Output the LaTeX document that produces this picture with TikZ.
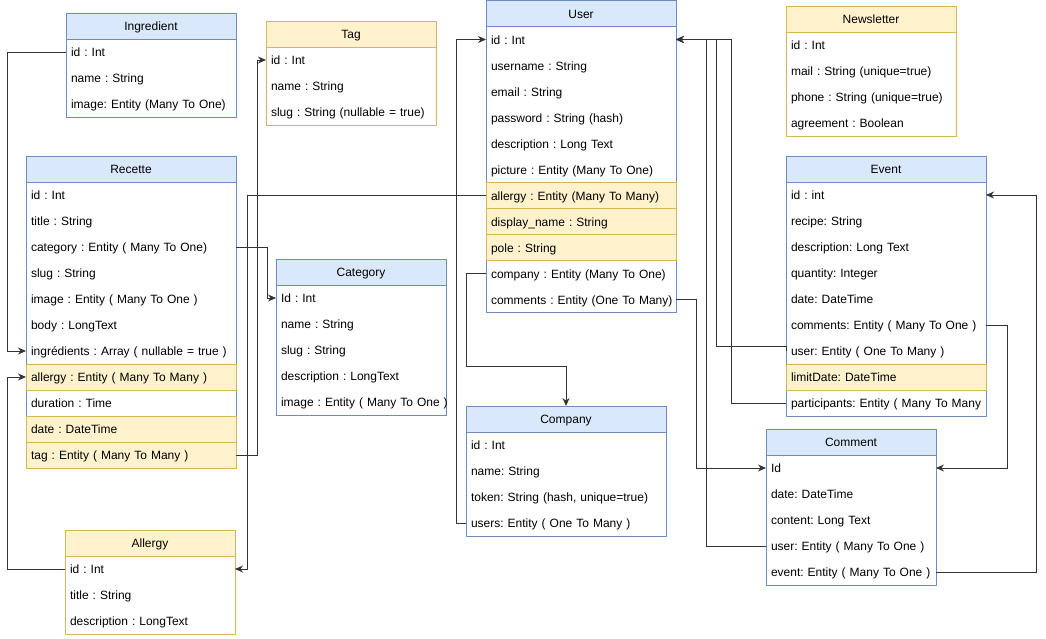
\documentclass[tikz,border=0pt]{standalone}
\usepackage{fontspec}
\setmainfont{Liberation Sans}
\usetikzlibrary{positioning, backgrounds, arrows.meta}
\frenchspacing

\definecolor{headblue}{HTML}{DAE8FC}
\definecolor{lineblue}{HTML}{6C8EBF}
\definecolor{headyellow}{HTML}{FFF2CC}
\definecolor{lineyellow}{HTML}{D6B656}

\begin{document}
\begin{tikzpicture}[
    x=1pt, y=-1pt,
    every node/.style={font=\fontsize{12}{14}\selectfont, inner xsep=5, inner ysep=0, outer sep=0,
        minimum height=26, text height=10, text depth=1},
    blue head/.style={fill=headblue, draw=lineblue, line width=1, align=center},
    yellow head/.style={fill=headyellow, draw=lineyellow, line width=1, align=center},
    field/.style={align=left},
    key field/.style={align=left, fill=headyellow, draw=lineyellow, line width=1},
    blue box/.style={draw=lineblue, line width=1},
    yellow box/.style={draw=lineyellow, line width=1},
    link/.style={draw=black!80, line width=1, -{Stealth[length=8pt, width=7pt]}}
]
    \useasboundingbox (0,0) rectangle (1046,638);

    % Ingredient
    \begin{scope}[nodes={text width=160}]
        \node[blue head, anchor=north west] (ing) at (66,13) {Ingredient};
        \foreach \n/\t/\s [remember=\n as \p (initially ing)] in {ing-id/{id : Int}/field,
            ing-name/{name : String}/field, ing-img/{image: Entity (Many To One)}/field}
            \node[\s, below=0pt of \p] (\n) {\mbox{\t}};
    \end{scope}

    % Recette
    \begin{scope}[nodes={text width=200}]
        \node[blue head, anchor=north west] (rec) at (26,156) {Recette};
        \foreach \n/\t/\s [remember=\n as \p (initially rec)] in {rec-id/{id : Int}/field,
            rec-title/{title : String}/field, rec-cat/{category : Entity ( Many To One)}/field,
            rec-slug/{slug : String}/field, rec-img/{image : Entity ( Many To One )}/field,
            rec-body/{body : LongText}/field, rec-ingr/{ingrédients : Array ( nullable = true )}/field,
            rec-all/{allergy : Entity ( Many To Many )}/key field, rec-dur/{duration : Time}/field,
            rec-date/{date : DateTime}/key field, rec-tag/{tag : Entity ( Many To Many )}/key field}
            \node[\s, below=0pt of \p] (\n) {\mbox{\t}};
    \end{scope}

    % Tag
    \begin{scope}[nodes={text width=160}]
        \node[yellow head, anchor=north west] (tag) at (266,21) {Tag};
        \foreach \n/\t/\s [remember=\n as \p (initially tag)] in {tag-id/{id : Int}/field,
            tag-name/{name : String}/field, tag-slug/{slug : String (nullable = true)}/field}
            \node[\s, below=0pt of \p] (\n) {\mbox{\t}};
    \end{scope}

    % Category
    \begin{scope}[nodes={text width=160}]
        \node[blue head, anchor=north west] (cat) at (276,259) {Category};
        \foreach \n/\t/\s [remember=\n as \p (initially cat)] in {cat-id/{Id : Int}/field,
            cat-name/{name : String}/field, cat-slug/{slug : String}/field,
            cat-desc/{description : LongText}/field, cat-img/{image : Entity ( Many To One )}/field}
            \node[\s, below=0pt of \p] (\n) {\mbox{\t}};
    \end{scope}

    % User
    \begin{scope}[nodes={text width=180}]
        \node[blue head, anchor=north west] (usr) at (486,0.5) {User};
        \foreach \n/\t/\s [remember=\n as \p (initially usr)] in {usr-id/{id : Int}/field,
            usr-name/{username : String}/field, usr-mail/{email : String}/field,
            usr-pass/{password : String (hash)}/field, usr-desc/{description : Long Text}/field,
            usr-pic/{picture : Entity (Many To One)}/field, usr-all/{allergy : Entity (Many To Many)}/key field,
            usr-disp/{display\_name : String}/key field, usr-pole/{pole : String}/key field,
            usr-comp/{company : Entity (Many To One)}/field, usr-com/{comments : Entity (One To Many)}/field}
            \node[\s, below=0pt of \p] (\n) {\mbox{\t}};
    \end{scope}

    % Newsletter
    \begin{scope}[nodes={text width=160}]
        \node[yellow head, anchor=north west] (nws) at (786,6) {Newsletter};
        \foreach \n/\t/\s [remember=\n as \p (initially nws)] in {nws-id/{id : Int}/field,
            nws-mail/{mail : String (unique=true)}/field, nws-phone/{phone : String (unique=true)}/field,
            nws-agr/{agreement : Boolean}/field}
            \node[\s, below=0pt of \p] (\n) {\mbox{\t}};
    \end{scope}

    % Event
    \begin{scope}[nodes={text width=190}]
        \node[blue head, anchor=north west] (evt) at (786,156) {Event};
        \foreach \n/\t/\s [remember=\n as \p (initially evt)] in {evt-id/{id : int}/field,
            evt-recipe/{recipe: String}/field, evt-desc/{description: Long Text}/field,
            evt-qty/{quantity: Integer}/field, evt-date/{date: DateTime}/field,
            evt-com/{comments: Entity ( Many To One )}/field, evt-user/{user: Entity ( One To Many )}/field,
            evt-limit/{limitDate: DateTime}/key field, evt-part/{participants: Entity ( Many To Many}/field}
            \node[\s, below=0pt of \p] (\n) {\mbox{\t}};
    \end{scope}

    % Company
    \begin{scope}[nodes={text width=190}]
        \node[blue head, anchor=north west] (cmp) at (466,406) {Company};
        \foreach \n/\t/\s [remember=\n as \p (initially cmp)] in {cmp-id/{id : Int}/field,
            cmp-name/{name: String}/field, cmp-token/{token: String (hash, unique=true)}/field,
            cmp-users/{users: Entity ( One To Many )}/field}
            \node[\s, below=0pt of \p] (\n) {\mbox{\t}};
    \end{scope}

    % Comment
    \begin{scope}[nodes={text width=160}]
        \node[blue head, anchor=north west] (cmt) at (766,429) {Comment};
        \foreach \n/\t/\s [remember=\n as \p (initially cmt)] in {cmt-id/{Id}/field,
            cmt-date/{date: DateTime}/field, cmt-content/{content: Long Text}/field,
            cmt-user/{user: Entity ( Many To One )}/field, cmt-event/{event: Entity ( Many To One )}/field}
            \node[\s, below=0pt of \p] (\n) {\mbox{\t}};
    \end{scope}

    % Allergy
    \begin{scope}[nodes={text width=160}]
        \node[yellow head, anchor=north west] (all) at (65,530) {Allergy};
        \foreach \n/\t/\s [remember=\n as \p (initially all)] in {all-id/{id : Int}/field,
            all-title/{title : String}/field, all-desc/{description : LongText}/field}
            \node[\s, below=0pt of \p] (\n) {\mbox{\t}};
    \end{scope}

    % Entity outlines
    \begin{scope}[on background layer]
        \draw[blue box] (ing.north west) rectangle (ing-img.south east);
        \draw[blue box] (rec.north west) rectangle (rec-tag.south east);
        \draw[yellow box] (tag.north west) rectangle (tag-slug.south east);
        \draw[blue box] (cat.north west) rectangle (cat-img.south east);
        \draw[blue box] (usr.north west) rectangle (usr-com.south east);
        \draw[yellow box] (nws.north west) rectangle (nws-agr.south east);
        \draw[blue box] (evt.north west) rectangle (evt-part.south east);
        \draw[blue box] (cmp.north west) rectangle (cmp-users.south east);
        \draw[blue box] (cmt.north west) rectangle (cmt-event.south east);
        \draw[yellow box] (all.north west) rectangle (all-desc.south east);
    \end{scope}

    % Relations
    \draw[link] (ing-id.west) -- ++(-59,0) |- (rec-ingr.west);
    \draw[link] (all-id.west) -- ++(-58,0) |- (rec-all.west);
    \draw[link] (usr-all.west) -- ++(-239,0) |- (all-id.east);
    \draw[link] (rec-tag.east) -- ++(21,0) |- (tag-id.west);
    \draw[link] (rec-cat.east) -- ++(31,0) |- (cat-id.west);
    \draw[link] (cmp-users.west) -- ++(-9.5,0) |- (usr-id.west);
    \draw[link] (usr-comp.west) -- ++(-19.5,0) -- ++(0,93) -| (cmp.north);
    \draw[link] (usr-com.east) -- ++(20,0) |- (cmt-id.west);
    \draw[link] (cmt-user.west) -- ++(-59.5,0) |- (usr-id.east);
    \draw[link] (evt-user.west) -- ++(0,-5) -- ++(-69.5,0) |- (usr-id.east);
    \draw[link] (evt-part.west) -- ++(-54.5,0) |- (usr-id.east);
    \draw[link] (evt-com.east) -- ++(21,0) |- (cmt-id.east);
    \draw[link] (cmt-event.east) -- ++(100,0) |- (evt-id.east);

\end{tikzpicture}
\end{document}
